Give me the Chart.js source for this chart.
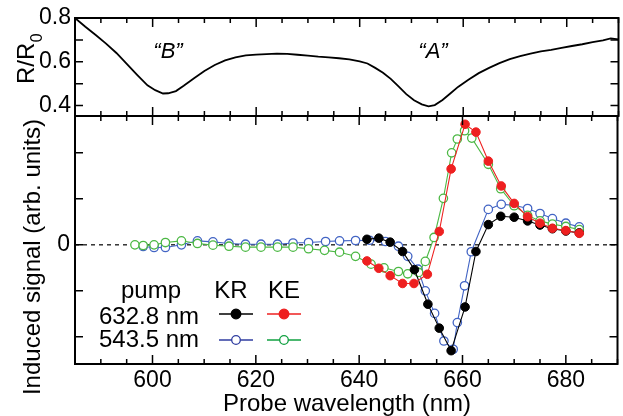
<!DOCTYPE html>
<html>
<head>
<meta charset="utf-8">
<script src="https://cdn.jsdelivr.net/npm/chart.js@4"></script>
<style>
  body { margin: 0; background: #fff; }
  #wrap { position: relative; width: 623px; height: 416px; }
  canvas { position: absolute; left: 0; top: 0; }
</style>
</head>
<body>
<div id="wrap">
  <canvas id="reflChart" width="623" height="416"></canvas>
  <canvas id="signalChart" width="623" height="416"></canvas>
</div>
<script>
// Top panel: reflectance ratio R/R0
const reflWavelength = [585, 587, 589, 591, 593, 595, 597, 599, 600.5, 602, 603, 604.5, 606, 608, 610, 612, 614, 616, 618, 620,
  622, 624, 626, 628, 630, 632, 634, 636, 638, 640, 641.5, 643, 644.5, 646, 647.5, 649, 650.5, 652, 653.3, 654.5,
  656, 657.5, 659, 661, 663, 665, 667, 669, 671, 673, 675, 677, 679, 681, 683, 685, 687, 688.5, 690];
const reflRatio = [0.800, 0.760, 0.722, 0.683, 0.640, 0.590, 0.540, 0.492, 0.470, 0.455, 0.456, 0.466, 0.490, 0.525, 0.558, 0.585, 0.606, 0.620, 0.629, 0.633,
  0.635, 0.637, 0.636, 0.632, 0.628, 0.623, 0.620, 0.616, 0.611, 0.602, 0.592, 0.572, 0.550, 0.522, 0.487, 0.452, 0.424, 0.405, 0.396, 0.402,
  0.425, 0.455, 0.485, 0.518, 0.548, 0.572, 0.594, 0.612, 0.626, 0.637, 0.647, 0.654, 0.663, 0.672, 0.680, 0.690, 0.698, 0.707, 0.702];

// Bottom panel: induced signal, pump 632.8 nm
const krPump632Wl = [641.5, 643.8, 646, 648.4, 650.7, 653.3, 655.5, 657.8, 660.5, 662.6, 665, 667.4, 670, 672.6, 675, 677.4, 680, 682.6];
const krPump632 = [0.12, 0.145, 0.058, -0.145, -0.54, -1.29, -1.81, -2.3, -1.35, -0.145, 0.44, 0.62, 0.6, 0.52, 0.43, 0.35, 0.3, 0.26];
const kePump632Wl = [641.5, 643.8, 646, 648.4, 650.6, 653.2, 655.5, 657.8, 660.5, 662.6, 665, 667.5, 670, 672.6, 675, 677.4, 680, 682.6];
const kePump632 = [-0.35, -0.51, -0.67, -0.84, -0.84, -0.64, 0.29, 1.65, 2.62, 2.45, 1.82, 1.28, 0.9, 0.61, 0.47, 0.36, 0.31, 0.25];

// pump 543.5 nm
const krPump543Wl = [598.2, 600.3, 602.5, 605.6, 608.7, 611.7, 614.8, 618, 621, 624.2, 627.2, 630.2, 633.5, 636.2, 639.3, 642, 645.1, 647.6,
  649.4, 651.4, 652.8, 654.6, 656.4, 658.2, 659, 660.4, 661.7, 665, 667.5, 670, 672.6, 675, 677.4, 680, 682.6];
const krPump543 = [-0.036, -0.058, -0.058, 0, 0.087, 0.065, 0.03, 0.014, 0.014, 0.014, 0.04, 0.05, 0.072, 0.087, 0.094, 0.1, 0.072, -0.03,
  -0.25, -0.53, -1.0, -1.49, -2.09, -2.27, -1.69, -0.89, -0.15, 0.77, 0.88, 0.86, 0.79, 0.68, 0.57, 0.47, 0.39];
const kePump543Wl = [596.6, 598.2, 600.3, 602.5, 605.6, 608.7, 611.7, 614.8, 618, 621, 624.2, 627.2, 630.2, 633.3, 636.2, 639.3, 642.3, 644.8,
  647.6, 649.4, 651.5, 652.8, 654.5, 656.3, 657.9, 659, 660.4, 661.8, 665, 667.4, 670, 672.6, 675, 677.4, 680, 682.6];
const kePump543 = [0, -0.014, 0, 0.05, 0.087, 0.03, -0.007, -0.03, -0.05, -0.05, -0.05, -0.05, -0.085, -0.12, -0.16, -0.25, -0.42, -0.5,
  -0.58, -0.63, -0.6, -0.36, 0.16, 1.01, 2.0, 2.3, 2.48, 2.32, 1.75, 1.22, 0.85, 0.64, 0.52, 0.45, 0.4, 0.33];

// ticks
const xLabels = [600, 620, 640, 660, 680];
const reflTicks = [0.4, 0.5, 0.6, 0.7, 0.8];
const reflLabels = [0.4, 0.6, 0.8];
const signalTicks = [-2, -1, 0, 1, 2];

const xTicks = [];
for (let v = 585; v <= 690; v += 5) xTicks.push(v);

const colBlack = '#000000', colRed = '#ee2020', colBlue = '#4264c4', colGreen = '#4cb844';
const FONT = '"Liberation Sans", Arial, Helvetica, sans-serif';
Chart.defaults.font.family = FONT;
Chart.defaults.color = '#000';

const pts = (xs, ys) => xs.map((x, i) => ({ x: x, y: ys[i] }));

// frame + inward ticks on all four sides
function framePlugin(yTickValues) {
  return {
    id: 'frame',
    afterDraw(chart) {
      const { ctx, chartArea: a, scales } = chart;
      ctx.save();
      ctx.strokeStyle = '#000';
      ctx.lineWidth = 1.5;
      ctx.beginPath();
      xTicks.forEach(v => {
        const px = scales.x.getPixelForValue(v);
        const len = v % 20 === 0 ? 9 : 5;
        ctx.moveTo(px, a.bottom); ctx.lineTo(px, a.bottom - len);
        ctx.moveTo(px, a.top); ctx.lineTo(px, a.top + len);
      });
      yTickValues.forEach(v => {
        const py = scales.y.getPixelForValue(v);
        ctx.moveTo(a.left, py); ctx.lineTo(a.left + 8, py);
        ctx.moveTo(a.right, py); ctx.lineTo(a.right - 8, py);
      });
      ctx.stroke();
      ctx.lineWidth = 2;
      ctx.strokeRect(a.left, a.top, a.right - a.left, a.bottom - a.top);
      ctx.restore();
    }
  };
}

const reflText = {
  id: 'reflText',
  afterDraw(chart) {
    const ctx = chart.ctx;
    ctx.save();
    ctx.fillStyle = '#000';
    ctx.font = 'italic 22px ' + FONT;
    ctx.textAlign = 'center';
    ctx.textBaseline = 'alphabetic';
    ctx.fillText('\u201CB\u201D', 168, 58);
    ctx.fillText('\u201CA\u201D', 433, 58);
    // R/R0 axis title
    ctx.translate(34, 84);
    ctx.rotate(-Math.PI / 2);
    ctx.textAlign = 'left';
    ctx.font = '24px ' + FONT;
    ctx.fillText('R/R', 0, 0);
    const w = ctx.measureText('R/R').width;
    ctx.font = '16px ' + FONT;
    ctx.fillText('0', w + 0.5, 8);
    ctx.restore();
  }
};

const signalText = {
  id: 'signalText',
  beforeDatasetsDraw(chart) {
    const { ctx, chartArea: a, scales } = chart;
    const y0 = scales.y.getPixelForValue(0);
    ctx.save();
    ctx.strokeStyle = '#000';
    ctx.lineWidth = 1.2;
    ctx.setLineDash([4, 4]);
    ctx.beginPath();
    ctx.moveTo(a.left, y0); ctx.lineTo(a.right, y0);
    ctx.stroke();
    ctx.restore();
  },
  afterDraw(chart) {
    const ctx = chart.ctx;
    ctx.save();
    ctx.fillStyle = '#000';
    ctx.font = '24px ' + FONT;
    ctx.textBaseline = 'alphabetic';
    ctx.textAlign = 'center';
    ctx.fillText('Probe wavelength (nm)', 347, 411);
    ctx.fillText('pump', 151, 298);
    ctx.fillText('KR', 231, 298);
    ctx.fillText('KE', 284, 298);
    ctx.textAlign = 'right';
    ctx.fillText('632.8 nm', 199, 324);
    ctx.fillText('543.5 nm', 199, 347);

    // legend samples
    const sample = (cx, cy, color, filled) => {
      ctx.strokeStyle = color;
      ctx.lineWidth = 1.3;
      ctx.beginPath();
      ctx.moveTo(cx - 17, cy); ctx.lineTo(cx + 17, cy);
      ctx.stroke();
      ctx.beginPath();
      ctx.arc(cx, cy, filled ? 4.8 : 4.3, 0, Math.PI * 2);
      ctx.fillStyle = filled ? color : '#fff';
      ctx.fill();
      ctx.stroke();
    };
    sample(236, 314, colBlack, true);
    sample(284, 314, colRed, true);
    sample(236, 340, '#2f3da0', false);
    sample(284, 340, '#10a040', false);

    // y title
    ctx.fillStyle = '#000';
    ctx.font = '24px ' + FONT;
    ctx.translate(40, 257);
    ctx.rotate(-Math.PI / 2);
    ctx.textAlign = 'center';
    ctx.fillText('Induced signal (arb. units)', 0, 0);
    ctx.restore();
  }
};

const noGrid = { display: false, drawTicks: false };

new Chart(document.getElementById('reflChart'), {
  type: 'line',
  data: {
    datasets: [{
      data: pts(reflWavelength, reflRatio),
      borderColor: '#000',
      borderWidth: 1.8,
      pointRadius: 0,
      tension: 0
    }]
  },
  options: {
    responsive: false,
    animation: false,
    events: [],
    layout: { padding: { top: 18, bottom: 300, left: 0, right: 4.5 } },
    plugins: { legend: { display: false }, tooltip: { enabled: false } },
    scales: {
      x: { type: 'linear', min: 585, max: 690, display: false },
      y: {
        min: 0.352, max: 0.8,
        afterFit: s => { s.width = 75; },
        afterBuildTicks: s => { s.ticks = reflTicks.map(v => ({ value: v })); },
        grid: noGrid,
        border: { display: false },
        ticks: {
          padding: 4,
          font: { size: 23 },
          color: '#000',
          callback: v => reflLabels.includes(v) ? v.toFixed(1) : ''
        }
      }
    }
  },
  plugins: [framePlugin(reflTicks), reflText]
});

const openPoint = (color) => ({
  borderColor: color,
  pointBackgroundColor: '#fff',
  pointBorderColor: color,
  pointRadius: 4.2,
  pointBorderWidth: 1.3,
  borderWidth: 1.1,
  tension: 0
});
const filledPoint = (color) => ({
  borderColor: color,
  pointBackgroundColor: color,
  pointBorderColor: color,
  pointRadius: 4.3,
  pointBorderWidth: 1,
  borderWidth: 1.1,
  tension: 0
});

new Chart(document.getElementById('signalChart'), {
  type: 'line',
  data: {
    datasets: [
      Object.assign({ label: 'KE 632.8 nm', data: pts(kePump632Wl, kePump632) }, filledPoint(colRed)),
      Object.assign({ label: 'KR 632.8 nm', data: pts(krPump632Wl, krPump632) }, filledPoint(colBlack)),
      Object.assign({ label: 'KE 543.5 nm', data: pts(kePump543Wl, kePump543) }, openPoint(colGreen)),
      Object.assign({ label: 'KR 543.5 nm', data: pts(krPump543Wl, krPump543) }, openPoint(colBlue))
    ]
  },
  options: {
    responsive: false,
    animation: false,
    events: [],
    layout: { padding: { top: 116, bottom: 0, left: 0, right: 4.5 } },
    plugins: { legend: { display: false }, tooltip: { enabled: false } },
    scales: {
      x: {
        type: 'linear', min: 585, max: 690,
        afterFit: s => { s.height = 52; },
        afterBuildTicks: s => { s.ticks = xTicks.map(v => ({ value: v })); },
        grid: noGrid,
        border: { display: false },
        ticks: {
          padding: 3,
          autoSkip: false,
          maxRotation: 0,
          font: { size: 23 },
          color: '#000',
          callback: v => xLabels.includes(v) ? String(v) : ''
        }
      },
      y: {
        min: -2.59, max: 2.8,
        afterFit: s => { s.width = 75; },
        afterBuildTicks: s => { s.ticks = signalTicks.map(v => ({ value: v })); },
        grid: noGrid,
        border: { display: false },
        ticks: {
          padding: 5,
          font: { size: 23 },
          color: '#000',
          callback: v => v === 0 ? '0' : ''
        }
      }
    }
  },
  plugins: [framePlugin(signalTicks), signalText]
});
</script>
</body>
</html>
